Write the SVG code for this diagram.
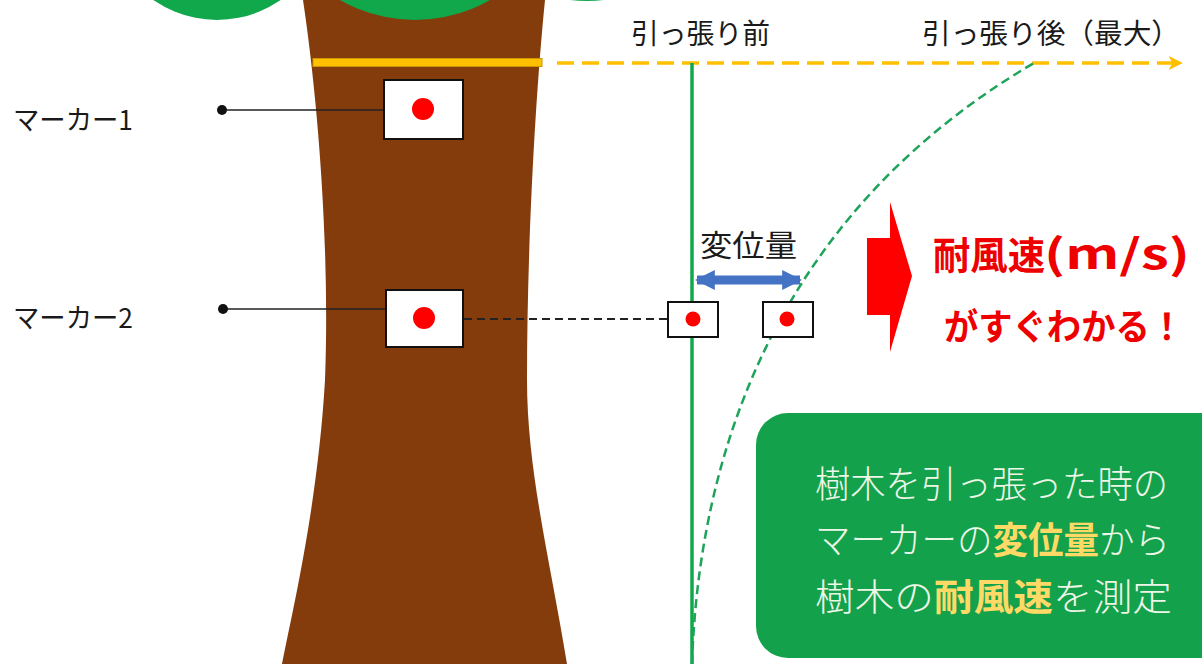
<svg xmlns="http://www.w3.org/2000/svg" width="1202" height="664" viewBox="0 0 1202 664">
  <style>
    .jp { font-family: "Noto Sans CJK JP", "Noto Sans", sans-serif; }
    .label { font-size: 27px; fill: #1a1a1a; }
    .marker-box { fill: #ffffff; stroke: #111111; stroke-width: 2; }
    .dot { fill: #ff0000; }
    .leader { stroke: #222222; stroke-width: 1.6; fill: none; }
    .leaf { fill: #10a84b; }
    .red { fill: #ee0000; font-weight: 700; }
    .note { font-size: 37px; fill: #eef6e8; font-weight: 300; }
    .hl { fill: #ffd966; font-weight: 700; }
  </style>
  <defs>
    <marker id="orangeHead" viewBox="0 0 10 10" refX="8" refY="5" markerWidth="4" markerHeight="4" orient="auto" markerUnits="strokeWidth">
      <path d="M0,0 L10,5 L0,10 L2.5,5 Z" fill="#ffc000"/>
    </marker>
    <marker id="blueHead" viewBox="0 0 10 10" refX="9" refY="5" markerWidth="2.2" markerHeight="2.4" orient="auto-start-reverse" markerUnits="strokeWidth">
      <path d="M0,0 L10,5 L0,10 Z" fill="#4472c4"/>
    </marker>
  </defs>

  <rect width="1202" height="664" fill="#ffffff"/>

  <!-- tree: foliage and trunk -->
  <g id="tree">
    <circle class="leaf" cx="217" cy="-91" r="111"/>
    <circle class="leaf" cx="587" cy="-142" r="143"/>
    <path d="M303,0 C318,100 330,250 325,380 C318,500 295,600 282,664 L567,664 C550,560 527,470 527,380 C527,250 535,100 545,0 Z" fill="#843c0c"/>
    <circle class="leaf" cx="415" cy="-131" r="151"/>
  </g>

  <!-- band tied round the trunk -->
  <g id="band">
    <rect x="313" y="58.5" width="229" height="8" fill="#ffc000" stroke="#c99700" stroke-width="1"/>
  </g>

  <!-- connectors -->
  <g id="connectors">
    <!-- pulling direction -->
    <line x1="557" y1="63" x2="1180" y2="63" stroke="#ffc000" stroke-width="3.5" stroke-dasharray="17 8" marker-end="url(#orangeHead)"/>
    <!-- trunk position before pulling -->
    <line x1="692" y1="63" x2="692" y2="664" stroke="#10a84b" stroke-width="3.5"/>
    <!-- trunk position after pulling -->
    <path d="M692,664 C700,420 800,200 1034,63" fill="none" stroke="#1ea35a" stroke-width="2.5" stroke-dasharray="9 5"/>
    <!-- leader lines to the markers -->
    <line class="leader" x1="222" y1="110" x2="384" y2="110"/>
    <circle cx="222" cy="110" r="5" fill="#111111"/>
    <line class="leader" x1="223" y1="309" x2="386" y2="309"/>
    <circle cx="223" cy="309" r="5" fill="#111111"/>
    <!-- projection of marker 2 -->
    <line x1="464" y1="319" x2="668" y2="319" stroke="#222222" stroke-width="2.2" stroke-dasharray="8 5"/>
    <!-- displacement -->
    <line x1="697" y1="280" x2="800" y2="280" stroke="#4472c4" stroke-width="9" marker-start="url(#blueHead)" marker-end="url(#blueHead)"/>
  </g>

  <g id="marker1">
    <rect class="marker-box" x="384" y="80" width="79" height="59"/>
    <circle class="dot" cx="423" cy="109" r="11"/>
    <text class="jp label" x="13" y="130" textLength="120" lengthAdjust="spacingAndGlyphs">マーカー1</text>
  </g>

  <g id="marker2">
    <rect class="marker-box" x="386" y="290" width="77" height="57"/>
    <circle class="dot" cx="424" cy="318" r="11"/>
    <text class="jp label" x="13" y="328" textLength="120" lengthAdjust="spacingAndGlyphs">マーカー2</text>
  </g>

  <g id="marker-before">
    <rect class="marker-box" x="668" y="302" width="50" height="35"/>
    <circle class="dot" cx="693" cy="319" r="7.5"/>
  </g>

  <g id="marker-after">
    <rect class="marker-box" x="763" y="302" width="50" height="35"/>
    <circle class="dot" cx="787" cy="319" r="7.5"/>
  </g>

  <g id="labels">
    <text class="jp label" x="631" y="44" textLength="139" lengthAdjust="spacingAndGlyphs" style="font-size:28px">引っ張り前</text>
    <text class="jp label" x="922" y="44" textLength="258" lengthAdjust="spacingAndGlyphs" style="font-size:28px">引っ張り後（最大）</text>
    <text class="jp label" x="700" y="256" textLength="97" lengthAdjust="spacingAndGlyphs" style="font-size:30px">変位量</text>
  </g>

  <g id="result">
    <path d="M867,238 L890,238 L890,202 L912,276 L890,352 L890,315 L867,315 Z" fill="#ff0000"/>
    <text class="jp red" x="933" y="269" style="font-size:38px"><tspan textLength="112" lengthAdjust="spacingAndGlyphs">耐風速</tspan><tspan x="1044" style="font-size:41px" textLength="146" lengthAdjust="spacingAndGlyphs">(m/s)</tspan></text>
    <text class="jp red" x="944" y="340" style="font-size:36px" textLength="240" lengthAdjust="spacingAndGlyphs">がすぐわかる！</text>
  </g>

  <g id="summary">
    <rect x="756" y="413" width="480" height="245" rx="32" fill="#13a24b"/>
    <text class="jp note" x="815" y="498" textLength="353" lengthAdjust="spacingAndGlyphs">樹木を引っ張った時の</text>
    <text class="jp note" x="815" y="554" textLength="355" lengthAdjust="spacingAndGlyphs">マーカーの<tspan class="hl">変位量</tspan>から</text>
    <text class="jp note" x="815" y="611" textLength="357" lengthAdjust="spacingAndGlyphs">樹木の<tspan class="hl">耐風速</tspan>を測定</text>
  </g>
</svg>
